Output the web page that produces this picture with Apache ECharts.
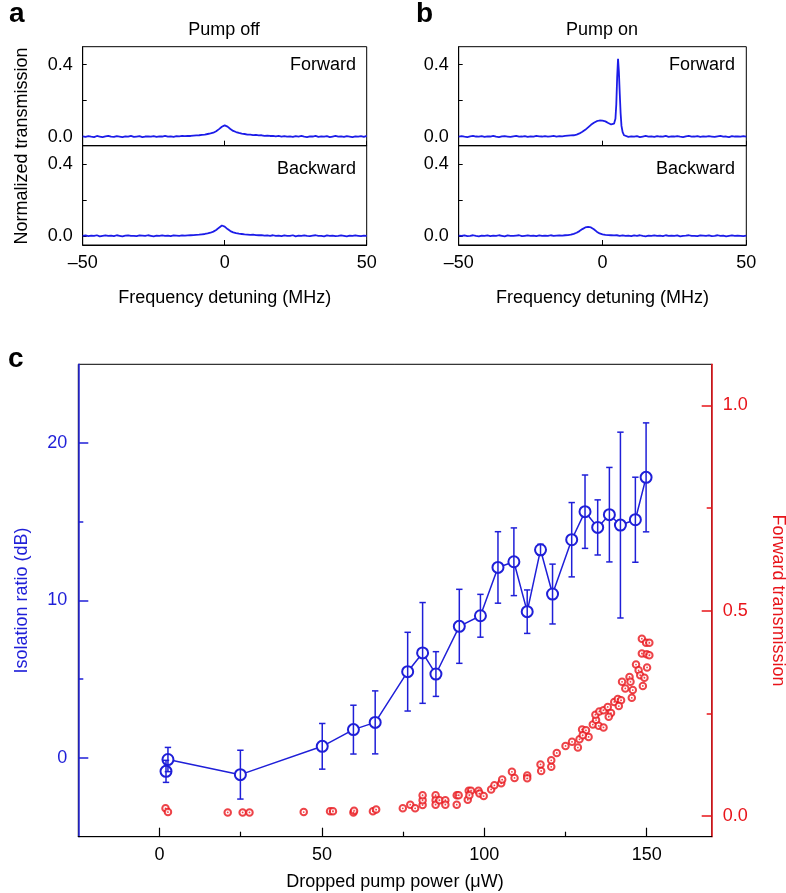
<!DOCTYPE html>
<html>
<head>
<meta charset="utf-8">
<script src="https://cdn.jsdelivr.net/npm/echarts@6/dist/echarts.min.js"></script>
<style>html,body{margin:0;padding:0;background:#fff;}#chart{width:786px;height:893px;}</style>
</head>
<body>
<div id="chart"></div>
<script>
// ---------- Panels a/b: transmission traces ----------
const freq = [-50,-49,-48,-47,-46,-45,-44,-43,-42,-41,-40,-39,-38,-37,-36,-35,-34,-33,-32,-31,-30,-29,-28,-27,-26,-25,-24,-23,-22,-21,-20,-19,-18,-17,-16,-15,-14,-13,-12,-11,-10,-9,-8,-7,-6,-5,-4,-3,-2,-1,0,1,2,3,4,5,6,7,8,9,10,11,12,13,14,15,16,17,18,19,20,21,22,23,24,25,26,27,28,29,30,31,32,33,34,35,36,37,38,39,40,41,42,43,44,45,46,47,48,49,50];
const offForward = [0.002,-0.001,0.003,0.000,-0.002,0.004,0.001,-0.002,0.002,0.005,0.000,-0.001,0.003,0.001,-0.002,0.002,0.000,0.004,-0.001,0.001,0.003,-0.002,0.001,0.002,0.000,0.003,-0.001,0.002,0.001,0.004,0.000,0.002,-0.001,0.003,0.002,0.004,0.003,
 0.005,0.004,0.006,0.007,0.008,0.010,0.012,0.015,0.018,0.022,0.030,0.042,0.055,0.063,0.056,0.043,0.032,0.026,0.021,0.017,0.015,0.012,0.011,0.009,0.010,0.007,
 0.008,0.005,0.006,0.004,0.005,0.002,0.004,0.001,0.003,0.000,0.002,-0.001,0.003,0.001,0.004,0.000,-0.002,0.002,0.001,0.004,-0.001,0.002,0.000,0.003,-0.002,0.001,0.004,0.000,0.002,-0.001,0.003,0.001,-0.002,0.002,0.000,0.003,-0.001,0.004];
const offBackward = [0.001,0.003,-0.001,0.002,0.000,0.004,-0.002,0.001,0.003,0.000,0.002,-0.001,0.004,0.001,-0.002,0.002,0.003,0.000,0.001,-0.001,0.003,0.002,0.000,0.004,0.001,-0.002,0.002,0.000,0.003,0.001,0.002,-0.001,0.003,0.002,0.001,0.003,0.002,
 0.003,0.004,0.005,0.006,0.007,0.009,0.011,0.014,0.018,0.024,0.033,0.046,0.058,0.052,0.038,0.027,0.020,0.016,0.013,0.011,0.009,0.008,0.006,0.007,0.005,0.004,
 0.005,0.002,0.003,0.001,0.004,0.000,0.002,-0.001,0.003,0.001,0.000,0.004,-0.002,0.002,0.001,0.003,0.000,-0.001,0.002,0.004,0.000,0.001,-0.002,0.003,0.001,0.002,-0.001,0.000,0.003,0.001,-0.002,0.002,0.000,0.003,0.001,-0.001,0.002,0.001];
const onBackward = [0.002,0.000,0.003,-0.001,0.001,0.004,0.000,-0.002,0.002,0.001,0.003,-0.001,0.002,0.000,0.004,0.001,-0.002,0.003,0.001,0.000,0.002,0.004,-0.001,0.001,0.003,0.000,0.002,-0.001,0.003,0.001,0.002,0.000,0.004,0.001,0.002,0.003,0.002,0.004,0.005,
 0.007,0.012,0.018,0.027,0.038,0.047,0.050,0.047,0.037,0.024,0.014,0.009,0.006,0.005,0.004,0.003,
 0.004,0.001,0.003,0.000,0.002,-0.001,0.003,0.001,0.004,0.000,-0.002,0.002,0.001,0.003,0.000,0.002,-0.001,0.004,0.001,0.002,0.000,0.003,-0.002,0.001,0.002,0.004,0.000,0.001,-0.001,0.003,0.002,0.000,0.003,-0.001,0.001,0.004,0.000,0.002,-0.002,0.001,0.003,0.000,0.002,0.001,-0.001,0.002];
const freqOnF = [-50,-49,-48,-47,-46,-45,-44,-43,-42,-41,-40,-39,-38,-37,-36,-35,-34,-33,-32,-31,-30,-29,-28,-27,-26,-25,-24,-23,-22,-21,-20,-19,-18,-17,-16,-15,-14,-13,-12,-11,-10,-9,-8,-7,-6,-5,-4,-3,-2,-1,0,1,2,3,3.5,4,4.5,4.8,5.1,5.4,5.7,6.0,6.3,6.6,7.0,7.5,8,9,10,11,12,13,14,15,16,17,18,19,20,21,22,23,24,25,26,27,28,29,30,31,32,33,34,35,36,37,38,39,40,41,42,43,44,45,46,47,48,49,50];
const onForward = [0.001,0.003,0.000,-0.002,0.002,0.004,0.001,0.000,0.003,-0.001,0.002,0.001,0.004,0.000,-0.002,0.002,0.003,0.001,-0.001,0.002,0.004,0.000,0.001,0.003,-0.001,0.002,0.000,0.004,0.002,0.001,0.003,0.000,0.002,0.004,0.001,0.003,0.002,
 0.004,0.006,0.007,0.008,0.012,0.018,0.027,0.038,0.052,0.066,0.077,0.086,0.090,0.089,0.085,0.076,0.068,
 0.066,0.072,0.100,0.180,0.330,0.433,0.360,0.240,0.130,0.060,0.025,0.008,0.002,
 -0.001,0.002,0.000,0.003,-0.002,0.001,0.004,0.000,0.002,-0.001,0.003,0.001,0.000,0.004,-0.001,0.002,0.001,0.003,0.000,-0.002,0.002,0.004,0.000,0.001,0.003,-0.001,0.002,0.000,0.003,0.001,-0.001,0.002,0.004,0.000,0.001,-0.002,0.003,0.001,0.002,0.000,0.003,0.001];

// ---------- Panel c: isolation ratio ----------
const powerIso = [2.0,2.6,24.9,50.1,59.7,66.4,76.4,81.0,85.1,92.3,98.8,104.2,109.1,113.2,117.3,121.0,126.9,131.0,134.9,138.5,141.9,146.5,149.8];
const isoRatio = [-0.85,-0.1,-1.06,0.74,1.8,2.26,5.48,6.67,5.33,8.36,9.03,12.1,12.46,9.29,13.22,10.41,13.86,15.64,14.64,15.45,14.79,15.13,17.82];
const isoErr   = [0.7,0.77,1.55,1.45,1.55,2.0,2.5,3.2,1.42,2.35,1.36,2.27,2.15,1.38,0.35,1.9,2.36,2.33,1.75,3.0,5.9,2.7,3.46];

// ---------- Panel c: forward transmission ----------
const powerFT = [1.85,2.6,21,25.6,27.7,44.4,52.5,53.4,59.7,59.9,65.7,66.7,
 74.9,77.2,78.7,81.0,81.0,81.0,85.0,85.0,85.0,86.2,88.0,88.0,91.5,92.1,91.5,94.9,95.2,95.9,95.4,98.2,98.5,99.8,
 102.1,103.1,105.2,105.5,108.5,109.3,113.2,113.2,117.3,117.5,120.6,120.6,122.3,125.0,127.0,128.8,129.3,
 130.1,131.3,132.1,130.3,133.4,134.4,135.2,136.7,134.2,135.4,136.7,138.0,139.0,138.3,140.0,141.1,142.1,141.4,
 142.4,143.4,144.7,145.0,145.7,145.4,146.7,147.5,148.0,149.3,150.1,148.8,148.5,149.8,150.8,148.5,150.0,150.8];
const fwdTrans = [0.019,0.010,0.009,0.009,0.009,0.010,0.012,0.012,0.009,0.013,0.012,0.016,
 0.019,0.028,0.019,0.027,0.039,0.051,0.051,0.039,0.028,0.039,0.039,0.028,0.051,0.051,0.028,0.040,0.062,0.062,0.051,0.062,0.055,0.049,
 0.065,0.075,0.080,0.089,0.108,0.093,0.099,0.092,0.126,0.110,0.120,0.136,0.154,0.171,0.181,0.167,0.187,
 0.211,0.209,0.193,0.197,0.223,0.234,0.220,0.216,0.247,0.255,0.258,0.266,0.251,0.242,0.278,0.285,0.282,0.268,
 0.327,0.311,0.339,0.327,0.307,0.288,0.369,0.355,0.343,0.337,0.362,0.317,0.432,0.422,0.422,0.396,0.394,0.392];

const xTicksAB = [-50, 0, 50];
const yLabelsAB = [0, 0.4];
const yTicksAB = [0, 0.2, 0.4];
const xLabelsC = [0, 50, 100, 150];
const xMinorC = [25, 75, 125];
const yLabelsIso = [0, 10, 20];
const yMinorIso = [5, 15];
const yLabelsFT = [0, 0.5, 1.0];
const yMinorFT = [0.25, 0.75];

const FONT = "'Liberation Sans', Arial, Helvetica, sans-serif";
const TRACE = '#1c1ce8';
const BLUE = '#1f1fd8';
const RED = '#e8141a';

const pair = (xs, ys) => xs.map((x, i) => [x, ys[i]]);

function abX(grid, showLabel, withName) {
  return {
    type: 'value', gridIndex: grid, min: -50, max: 50,
    axisLine: {show: true, onZero: false, lineStyle: {color: '#000', width: 1}},
    axisTick: {show: true, inside: true, length: 5, customValues: xTicksAB, lineStyle: {color: '#000'}},
    axisLabel: {show: showLabel, customValues: xTicksAB, margin: 9, color: '#000', fontSize: 18, fontFamily: FONT,
      formatter: v => (v < 0 ? '\u2013' + Math.abs(v) : String(v))},
    splitLine: {show: false},
    name: withName ? 'Frequency detuning (MHz)' : '', nameLocation: 'middle', nameGap: 44,
    nameTextStyle: {color: '#000', fontSize: 18, fontFamily: FONT}
  };
}
function abY(grid) {
  return {
    type: 'value', gridIndex: grid, min: -0.05, max: 0.5,
    axisLine: {show: true, onZero: false, lineStyle: {color: '#000', width: 1}},
    axisTick: {show: true, inside: true, length: 4, customValues: yTicksAB, lineStyle: {color: '#000'}},
    axisLabel: {show: true, customValues: yLabelsAB, margin: 10, color: '#000', fontSize: 18, fontFamily: FONT,
      formatter: v => v.toFixed(1)},
    splitLine: {show: false}
  };
}
function trace(xi, data) {
  return {type: 'line', xAxisIndex: xi, yAxisIndex: xi, data: data, showSymbol: false, symbol: 'none',
    lineStyle: {color: TRACE, width: 1.8}, silent: true, animation: false};
}
function gridBox(left, top, width, height) {
  return {left: left, top: top, width: width, height: height, show: true, borderColor: '#000', borderWidth: 1,
    containLabel: false, outerBoundsMode: 'none'};
}

const chart = echarts.init(document.getElementById('chart'), null, {renderer: 'canvas'});
const option = {
  animation: false,
  backgroundColor: '#fff',
  grid: [
    gridBox(82.7, 46.7, 284, 99),
    gridBox(82.7, 145.7, 284, 99.3),
    gridBox(458.7, 46.7, 287.6, 99),
    gridBox(458.7, 145.7, 287.6, 99.3),
    gridBox(78.3, 364.3, 633.4, 472.4)
  ],
  xAxis: [
    abX(0, false, false), abX(1, true, true), abX(2, false, false), abX(3, true, true),
    {type: 'value', gridIndex: 4, min: -25, max: 170,
      axisLine: {show: true, onZero: false, lineStyle: {color: '#000', width: 1.2}},
      axisTick: {show: true, inside: true, length: 9, customValues: xLabelsC, lineStyle: {color: '#000', width: 1.2}},
      axisLabel: {show: true, customValues: xLabelsC, margin: 9, color: '#000', fontSize: 18, fontFamily: FONT},
      splitLine: {show: false},
      name: 'Dropped pump power (\u03bcW)', nameLocation: 'middle', nameGap: 36,
      nameTextStyle: {color: '#000', fontSize: 18, fontFamily: FONT}},
    {type: 'value', gridIndex: 4, min: -25, max: 170, position: 'bottom',
      axisLine: {show: false, onZero: false},
      axisTick: {show: true, inside: true, length: 5, customValues: xMinorC, lineStyle: {color: '#000', width: 1.2}},
      axisLabel: {show: false}, splitLine: {show: false}}
  ],
  yAxis: [
    abY(0), abY(1), abY(2), abY(3),
    {type: 'value', gridIndex: 4, min: -5, max: 25, position: 'left',
      axisLine: {show: true, onZero: false, lineStyle: {color: BLUE, width: 1.5}},
      axisTick: {show: true, inside: true, length: 10, customValues: yLabelsIso, lineStyle: {color: BLUE, width: 1.5}},
      axisLabel: {show: true, customValues: yLabelsIso, margin: 11, color: BLUE, fontSize: 18, fontFamily: FONT},
      splitLine: {show: false},
      name: 'Isolation ratio (dB)', nameLocation: 'middle', nameGap: 47,
      nameTextStyle: {color: BLUE, fontSize: 18, fontFamily: FONT}},
    {type: 'value', gridIndex: 4, min: -0.05, max: 1.1, position: 'right',
      axisLine: {show: true, onZero: false, lineStyle: {color: RED, width: 1.5}},
      axisTick: {show: true, inside: true, length: 10, customValues: yLabelsFT, lineStyle: {color: RED, width: 1.5}},
      axisLabel: {show: true, customValues: yLabelsFT, margin: 11, color: RED, fontSize: 18, fontFamily: FONT,
        formatter: v => v.toFixed(1)},
      splitLine: {show: false},
      name: 'Forward transmission', nameLocation: 'middle', nameGap: 57, nameRotate: -90,
      nameTextStyle: {color: RED, fontSize: 18, fontFamily: FONT}},
    {type: 'value', gridIndex: 4, min: -5, max: 25, position: 'left',
      axisLine: {show: false, onZero: false},
      axisTick: {show: true, inside: true, length: 5, customValues: yMinorIso, lineStyle: {color: BLUE, width: 1.5}},
      axisLabel: {show: false}, splitLine: {show: false}},
    {type: 'value', gridIndex: 4, min: -0.05, max: 1.1, position: 'right',
      axisLine: {show: false, onZero: false},
      axisTick: {show: true, inside: true, length: 5, customValues: yMinorFT, lineStyle: {color: RED, width: 1.5}},
      axisLabel: {show: false}, splitLine: {show: false}}
  ],
  series: [
    trace(0, pair(freq, offForward)),
    trace(1, pair(freq, offBackward)),
    trace(2, pair(freqOnF, onForward)),
    trace(3, pair(freq, onBackward)),
    {type: 'scatter', xAxisIndex: 4, yAxisIndex: 5, data: pair(powerFT, fwdTrans),
      symbol: 'emptyCircle', symbolSize: 6.5, itemStyle: {color: RED, borderColor: RED, borderWidth: 1.4}, z: 2},
    {type: 'scatter', xAxisIndex: 4, yAxisIndex: 5, data: pair(powerFT, fwdTrans),
      symbol: 'circle', symbolSize: 1.8, itemStyle: {color: RED}, z: 3},
    {type: 'line', xAxisIndex: 4, yAxisIndex: 4, data: pair(powerIso, isoRatio),
      symbol: 'emptyCircle', symbolSize: 11, showAllSymbol: true,
      itemStyle: {color: BLUE, borderColor: BLUE, borderWidth: 1.5},
      lineStyle: {color: BLUE, width: 1.5}, z: 4},
    {type: 'custom', xAxisIndex: 4, yAxisIndex: 4, z: 5,
      data: powerIso.map((x, i) => [x, isoRatio[i], isoErr[i]]),
      renderItem: function (params, api) {
        const x = api.value(0), y = api.value(1), e = api.value(2);
        const t = api.coord([x, y + e]), b = api.coord([x, y - e]);
        const hw = 3.2;
        const st = {stroke: BLUE, lineWidth: 1.5};
        return {type: 'group', children: [
          {type: 'line', shape: {x1: t[0], y1: t[1], x2: b[0], y2: b[1]}, style: st},
          {type: 'line', shape: {x1: t[0] - hw, y1: t[1], x2: t[0] + hw, y2: t[1]}, style: st},
          {type: 'line', shape: {x1: b[0] - hw, y1: b[1], x2: b[0] + hw, y2: b[1]}, style: st}
        ]};
      }}
  ],
  graphic: [
    {type: 'text', x: 9, y: 28, style: {text: 'a', font: 'bold 28px ' + FONT, fill: '#000', textVerticalAlign: 'bottom'}},
    {type: 'text', x: 416, y: 28, style: {text: 'b', font: 'bold 28px ' + FONT, fill: '#000', textVerticalAlign: 'bottom'}},
    {type: 'text', x: 8, y: 373, style: {text: 'c', font: 'bold 28px ' + FONT, fill: '#000', textVerticalAlign: 'bottom'}},
    {type: 'text', x: 224, y: 30, style: {text: 'Pump off', font: '18px ' + FONT, fill: '#000', textAlign: 'center', textVerticalAlign: 'middle'}},
    {type: 'text', x: 602, y: 30, style: {text: 'Pump on', font: '18px ' + FONT, fill: '#000', textAlign: 'center', textVerticalAlign: 'middle'}},
    {type: 'text', x: 356, y: 65, style: {text: 'Forward', font: '18px ' + FONT, fill: '#000', textAlign: 'right', textVerticalAlign: 'middle'}},
    {type: 'text', x: 356, y: 169, style: {text: 'Backward', font: '18px ' + FONT, fill: '#000', textAlign: 'right', textVerticalAlign: 'middle'}},
    {type: 'text', x: 735, y: 65, style: {text: 'Forward', font: '18px ' + FONT, fill: '#000', textAlign: 'right', textVerticalAlign: 'middle'}},
    {type: 'text', x: 735, y: 169, style: {text: 'Backward', font: '18px ' + FONT, fill: '#000', textAlign: 'right', textVerticalAlign: 'middle'}},
    {type: 'text', x: 22, y: 146, rotation: Math.PI / 2,
      style: {text: 'Normalized transmission', font: '18px ' + FONT, fill: '#000', textAlign: 'center', textVerticalAlign: 'middle'}}
  ]
};
chart.setOption(option);
</script>
</body>
</html>
